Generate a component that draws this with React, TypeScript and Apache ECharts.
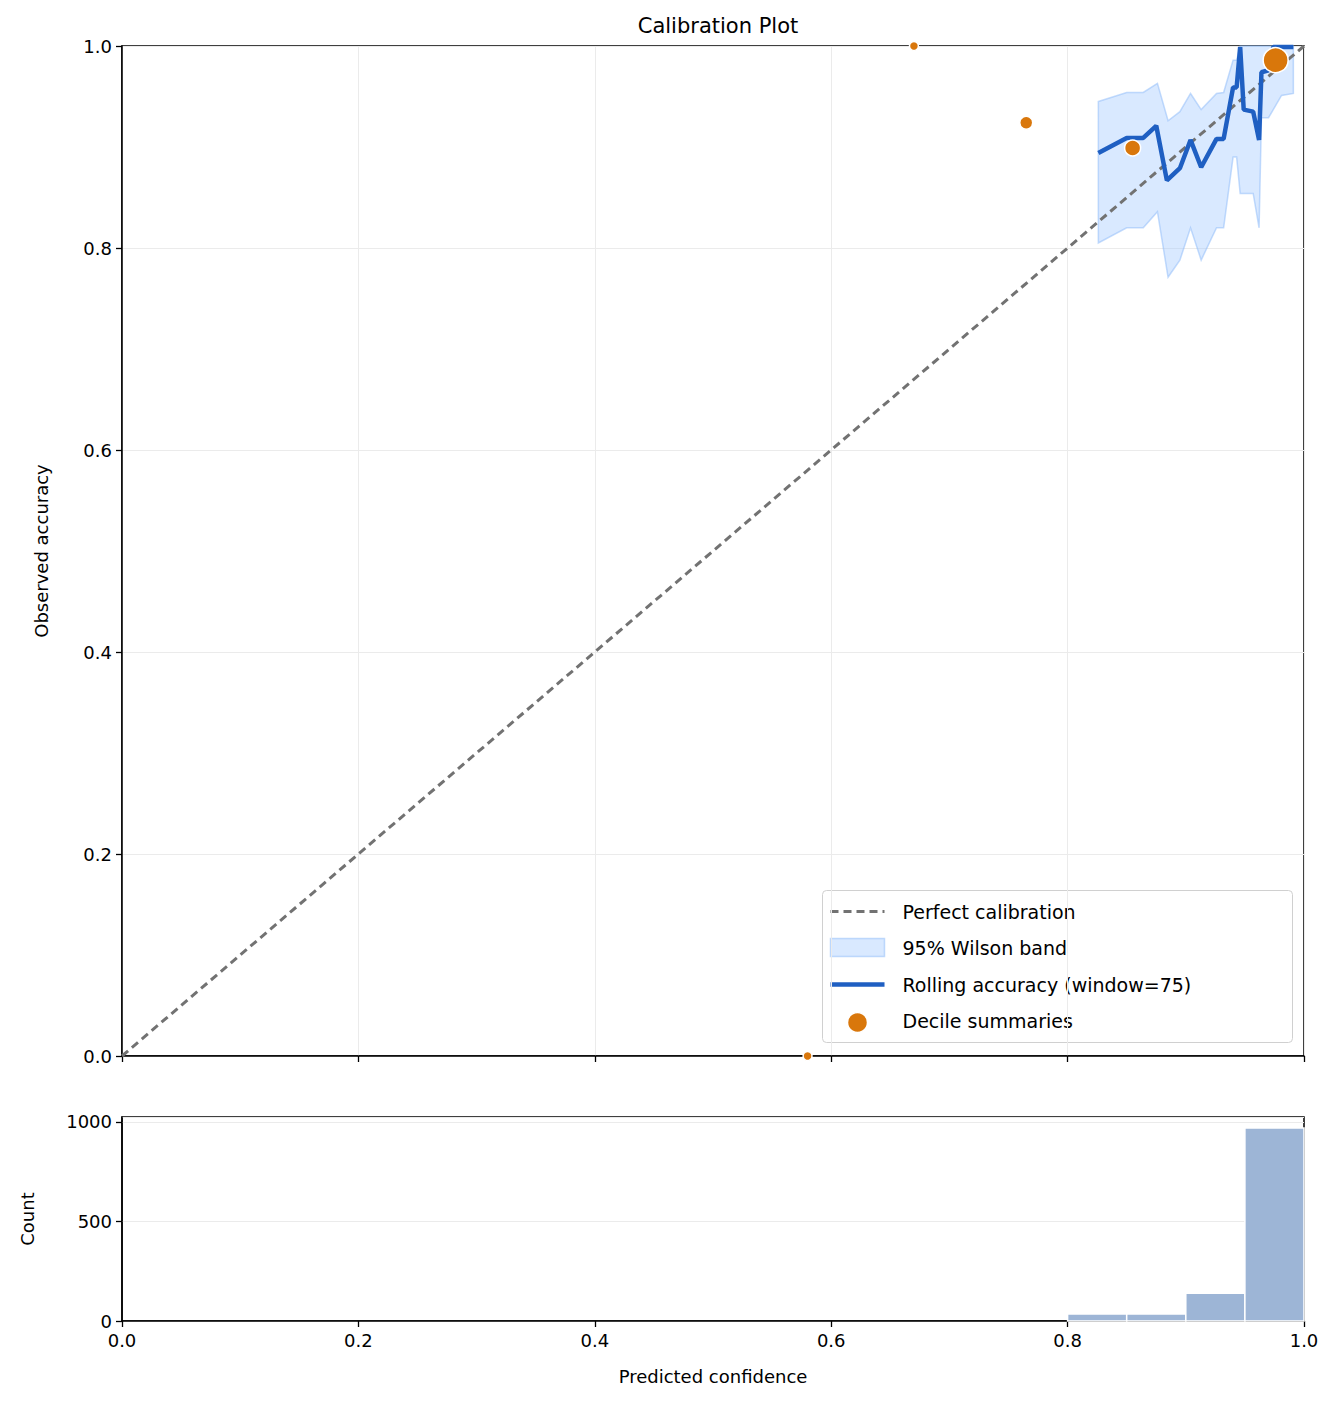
import { useEffect, useRef } from "react";
import * as echarts from "echarts";

const rollingX = [0.826, 0.85, 0.864, 0.875, 0.884, 0.895, 0.904, 0.913, 0.926, 0.932, 0.94, 0.943, 0.946, 0.949, 0.957, 0.962, 0.964, 0.97, 0.974, 0.991];
const rollingY = [0.894, 0.909, 0.909, 0.921, 0.867, 0.879, 0.907, 0.88, 0.908, 0.908, 0.959, 0.959, 0.999, 0.937, 0.935, 0.907, 0.974, 0.976, 0.999, 0.999];
const bandX = [0.826, 0.85, 0.864, 0.876, 0.885, 0.895, 0.904, 0.913, 0.926, 0.932, 0.94, 0.943, 0.946, 0.949, 0.957, 0.962, 0.964, 0.97, 0.981, 0.991];
const bandUpper = [0.945, 0.954, 0.954, 0.963, 0.926, 0.935, 0.953, 0.937, 0.953, 0.954, 0.986, 0.986, 1.0, 1.0, 1.0, 1.0, 1.0, 1.0, 1.0, 1.0];
const bandLower = [0.805, 0.82, 0.82, 0.836, 0.771, 0.788, 0.82, 0.788, 0.82, 0.82, 0.89, 0.89, 0.854, 0.854, 0.854, 0.82, 0.929, 0.929, 0.951, 0.953];
const decileX = [0.58, 0.67, 0.765, 0.855, 0.976];
const decileY = [0.0, 1.0, 0.924, 0.899, 0.986];
const decileSize = [9, 9, 13, 16, 25];
const binStart = [0.8, 0.85, 0.9, 0.95];
const binEnd = [0.85, 0.9, 0.95, 1.0];
const binCount = [35, 35, 140, 970];

const FONT = "DejaVu Sans";

export default function App() {
  const ref = useRef<HTMLDivElement>(null);
  useEffect(() => {
    if (!ref.current) return;
    const chart = echarts.init(ref.current, null, { renderer: "svg" });
    const gridLine = { show: true, lineStyle: { color: "#ebebeb", width: 1 } };
    const lab = { color: "#000", fontFamily: FONT, fontSize: 18 };
    const tick = { show: true, length: 6, lineStyle: { color: "#000", width: 1.3 } };
    const bandPoly = [
      ...bandX.map((x, i) => [x, bandUpper[i]]),
      ...bandX.map((x, i) => [x, bandLower[i]]).reverse(),
    ];
    chart.setOption({
      animation: false,
      textStyle: { fontFamily: FONT },
      title: {
        text: "Calibration Plot",
        left: 705,
        top: 2,
        textAlign: "center",
        textStyle: { fontFamily: FONT, fontSize: 21, fontWeight: "normal", color: "#000" },
      },
      grid: [
        { left: 114, top: 38, width: 1182, height: 1010, show: true, borderColor: "#000", borderWidth: 1.5, backgroundColor: "transparent" },
        { left: 114, top: 1109, width: 1182, height: 204, show: true, borderColor: "#000", borderWidth: 1.5, backgroundColor: "transparent" },
      ],
      xAxis: [
        {
          gridIndex: 0, type: "value", min: 0, max: 1, interval: 0.2,
          axisLabel: { show: false }, axisTick: tick,
          axisLine: { lineStyle: { color: "#000", width: 1.5 } }, splitLine: gridLine,
        },
        {
          gridIndex: 1, type: "value", min: 0, max: 1, interval: 0.2,
          name: "Predicted confidence", nameLocation: "middle", nameGap: 46,
          nameTextStyle: lab,
          axisLabel: { ...lab, formatter: (v: number) => v.toFixed(1), margin: 10 },
          axisTick: tick,
          axisLine: { lineStyle: { color: "#000", width: 1.5 } }, splitLine: { show: false },
        },
      ],
      yAxis: [
        {
          gridIndex: 0, type: "value", min: 0, max: 1, interval: 0.2,
          name: "Observed accuracy", nameLocation: "middle", nameGap: 72,
          nameTextStyle: lab,
          axisLabel: { ...lab, formatter: (v: number) => v.toFixed(1), margin: 10 },
          axisTick: tick,
          axisLine: { show: true, lineStyle: { color: "#000", width: 1.5 } }, splitLine: gridLine,
        },
        {
          gridIndex: 1, type: "value", min: 0, max: 1025, interval: 500,
          name: "Count", nameLocation: "middle", nameGap: 86,
          nameTextStyle: lab,
          axisLabel: { ...lab, showMaxLabel: false, margin: 10, formatter: (v: number) => String(v) },
          axisTick: tick,
          axisLine: { show: true, lineStyle: { color: "#000", width: 1.5 } }, splitLine: gridLine,
        },
      ],
      series: [
        {
          type: "custom", xAxisIndex: 0, yAxisIndex: 0, data: [[0]], z: 1,
          renderItem: (_p: any, api: any) => ({
            type: "polygon",
            shape: { points: bandPoly.map((p) => api.coord(p)) },
            style: { fill: "rgba(160,200,255,0.4)", stroke: "rgba(140,185,250,0.5)", lineWidth: 1.5 },
          }),
        },
        {
          type: "line", xAxisIndex: 0, yAxisIndex: 0, data: [[0, 0], [1, 1]], symbol: "none", z: 2,
          lineStyle: { color: "#727272", width: 3, type: [8, 5] },
        },
        {
          type: "line", xAxisIndex: 0, yAxisIndex: 0, symbol: "none", z: 3,
          data: rollingX.map((x, i) => [x, rollingY[i]]),
          lineStyle: { color: "#1f5fc2", width: 4.5 },
        },
        {
          type: "scatter", xAxisIndex: 0, yAxisIndex: 0, z: 4,
          data: decileX.map((x, i) => [x, decileY[i], decileSize[i]]),
          symbolSize: (d: number[]) => d[2],
          itemStyle: { color: "#d9770b", borderColor: "#fff", borderWidth: 1.5, opacity: 1 },
        },
        {
          type: "custom", xAxisIndex: 1, yAxisIndex: 1,
          data: binStart.map((s, i) => [s, binEnd[i], binCount[i]]),
          renderItem: (_p: any, api: any) => {
            const a = api.coord([api.value(0), api.value(2)]);
            const b = api.coord([api.value(1), 0]);
            return {
              type: "rect",
              shape: { x: a[0], y: a[1], width: b[0] - a[0], height: b[1] - a[1] },
              style: { fill: "#9db5d6", stroke: "#fff", lineWidth: 1.5 },
            };
          },
        },
      ],
      graphic: [
        {
          type: "group", left: 814, top: 882,
          children: [
            { type: "rect", shape: { x: 0, y: 0, width: 470, height: 152, r: 4 }, style: { fill: "rgba(255,255,255,0.85)", stroke: "#d0d0d0", lineWidth: 1 } },
            { type: "line", shape: { x1: 8, y1: 21, x2: 62, y2: 21 }, style: { stroke: "#727272", lineWidth: 3, lineDash: [8, 5] } },
            { type: "text", x: 80, y: 21, style: { text: "Perfect calibration", font: `19px ${FONT}`, fill: "#000", verticalAlign: "middle" } },
            { type: "rect", shape: { x: 8, y: 48, width: 54, height: 18 }, style: { fill: "rgba(160,200,255,0.4)", stroke: "rgba(140,185,250,0.5)", lineWidth: 1.5 } },
            { type: "text", x: 80, y: 57, style: { text: "95% Wilson band", font: `19px ${FONT}`, fill: "#000", verticalAlign: "middle" } },
            { type: "line", shape: { x1: 8, y1: 94, x2: 62, y2: 94 }, style: { stroke: "#1f5fc2", lineWidth: 4.5 } },
            { type: "text", x: 80, y: 94, style: { text: "Rolling accuracy (window=75)", font: `19px ${FONT}`, fill: "#000", verticalAlign: "middle" } },
            { type: "circle", shape: { cx: 35, cy: 132, r: 10 }, style: { fill: "#d9770b", stroke: "#fff", lineWidth: 1.5 } },
            { type: "text", x: 80, y: 130, style: { text: "Decile summaries", font: `19px ${FONT}`, fill: "#000", verticalAlign: "middle" } },
          ],
        },
      ],
    });
    return () => chart.dispose();
  }, []);
  return <div ref={ref} style={{ width: 1316, height: 1396 }} />;
}
